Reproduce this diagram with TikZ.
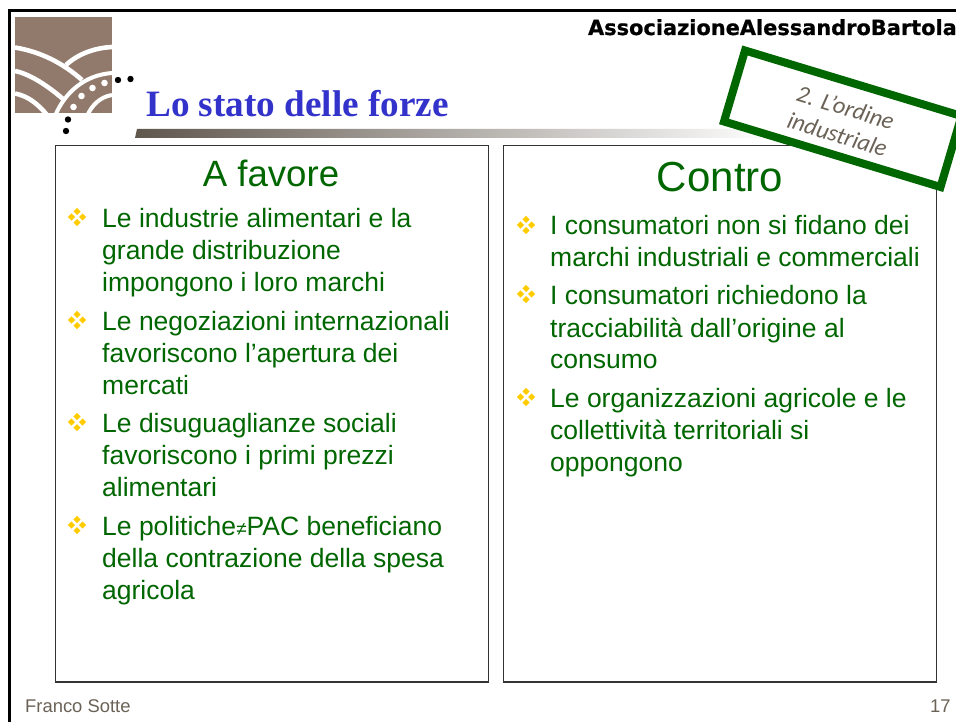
\documentclass[tikz,border=0pt]{standalone}
\usepackage{fontspec}
\setmainfont{Liberation Sans}
\newfontfamily\titlefont{Liberation Serif}
\newfontfamily\headerfont[FakeBold=0.7]{DejaVu Sans}
\newfontfamily\handfont{Carlito}
\definecolor{txtgreen}{HTML}{006600}
\definecolor{titleblue}{HTML}{3333CC}
\definecolor{logobrown}{HTML}{917A6B}
\definecolor{bulletgold}{HTML}{FFCC00}
\definecolor{footgray}{HTML}{6B6257}
\definecolor{barbrown}{HTML}{5F564C}
\usetikzlibrary{shapes.geometric}
\tikzset{
  x=1pt,y=-1pt,
  bodyline/.style={anchor=base west,inner sep=0pt,text=txtgreen,font=\fontsize{26.5}{30}\selectfont},
  headline/.style={anchor=base,inner sep=0pt,text=txtgreen},
  panelbox/.style={draw=black!80,line width=1.2pt},
  logocurve/.style={draw=white,line width=4.6pt},
  blackdot/.style={fill=black,circle,inner sep=0pt,minimum size=6.4pt},
  whitedot/.style={fill=white,circle,inner sep=0pt,minimum size=6.6pt},
  footer/.style={anchor=base west,inner sep=0pt,text=footgray,font=\fontsize{18.4}{20}\selectfont},
  pics/bulletmark/.style={code={
    \foreach \dx/\dy in {0/-5.6,0/5.6,-5.6/0,5.6/0}
      \fill[bulletgold] (\dx-3.6,\dy) -- (\dx,\dy-3.6) -- (\dx+3.6,\dy) -- (\dx,\dy+3.6) -- cycle;
  }}
}
\begin{document}
\begin{tikzpicture}
\useasboundingbox (0,0) rectangle (956,722);
\fill[white] (0,0) rectangle (956,722);
\clip (0,0) rectangle (956,722);
% outer frame
\draw[line width=3pt,black] (9.5,800) -- (9.5,10.5) -- (1000,10.5);
% logo
\begin{scope}
\fill[logobrown] (15,17) rectangle (112,113.5);
\clip (15,17) rectangle (112,113.5);
\draw[logocurve] (15,47.5) .. controls (42,52) and (64,64) .. (82,80);
\draw[logocurve] (66,65) .. controls (78,54) and (94,48) .. (112,47);
\draw[logocurve] (15,71) .. controls (30,74) and (48,86) .. (63,99);
\draw[logocurve] (15,93.5) .. controls (28,96) and (38,104) .. (47,115);
\draw[logocurve,line width=4pt] (55,116) .. controls (65,92) and (85,75) .. (112,73);
\draw[logocurve,line width=4pt] (87,116) .. controls (92,105) and (100,97) .. (112,95);
\node[whitedot] (wa) at (73.5,107) {};
\node[whitedot] (wb) at (81.5,96) {};
\node[whitedot] (wc) at (92.5,88) {};
\node[whitedot] (wd) at (104.5,83) {};
\end{scope}
\node[blackdot] (ba) at (118,80) {};
\node[blackdot] (bb) at (130.5,79) {};
\node[blackdot] (bc) at (68,119.5) {};
\node[blackdot] (bd) at (66,131) {};
% header
\node[anchor=base east,inner sep=0pt,font=\headerfont\bfseries\fontsize{20.9}{24}\selectfont] (hdr) at (957,35) {AssociazioneAlessandroBartola};
% title
\node[anchor=base west,inner sep=0pt,text=titleblue,font=\titlefont\bfseries\fontsize{37.2}{40}\selectfont] (title) at (146,117) {Lo stato delle forze};
% gradient bar
\shade[left color=barbrown,right color=white,shading angle=90] (135,138) -- (137,129) -- (770,129) -- (770,138) -- cycle;
% panels
\draw[panelbox] (55.5,145.5) rectangle (488.5,682);
\draw[panelbox] (503.5,145.5) rectangle (936.5,682);
% stamp
\draw[draw=txtgreen,fill=white,line width=8pt,line join=miter] (745,50.5) -- (961.5,116) -- (940.5,187) -- (724,121.5) -- cycle;
\node[rotate=-17,inner sep=0pt,text=footgray,align=center,font=\handfont\itshape\fontsize{24}{28}\selectfont] (stamp) at (841.5,121) {2. L’ordine\\industriale};
% headings
\node[headline,font=\fontsize{36.6}{40}\selectfont] (hleft) at (271,187) {A favore};
\node[headline,font=\fontsize{42}{48}\selectfont] (hright) at (720,192) {Contro};
% left column
\pic at (77,217) {bulletmark};
\node[bodyline] (l1) at (102,227.5) {Le industrie alimentari e la};
\node[bodyline] (l2) at (102,259) {grande distribuzione};
\node[bodyline] (l3) at (102,291) {impongono i loro marchi};
\pic at (77,320) {bulletmark};
\node[bodyline] (l4) at (102,330) {Le negoziazioni internazionali};
\node[bodyline] (l5) at (102,362) {favoriscono l’apertura dei};
\node[bodyline] (l6) at (102,394) {mercati};
\pic at (77,422) {bulletmark};
\node[bodyline] (l7) at (102,432) {Le disuguaglianze sociali};
\node[bodyline] (l8) at (102,464) {favoriscono i primi prezzi};
\node[bodyline] (l9) at (102,496) {alimentari};
\pic at (77,525) {bulletmark};
\node[bodyline] (l10) at (102,535) {Le politiche{\fontsize{19}{20}\selectfont ≠}PAC beneficiano};
\node[bodyline] (l11) at (102,567) {della contrazione della spesa};
\node[bodyline] (l12) at (102,599) {agricola};
% right column
\pic at (526,225) {bulletmark};
\node[bodyline] (r1) at (550,235) {I consumatori non si fidano dei};
\node[bodyline] (r2) at (550,266) {marchi industriali e commerciali};
\pic at (526,294) {bulletmark};
\node[bodyline] (r3) at (550,304) {I consumatori richiedono la};
\node[bodyline] (r4) at (550,337) {tracciabilità dall’origine al};
\node[bodyline] (r5) at (550,368) {consumo};
\pic at (526,397) {bulletmark};
\node[bodyline] (r6) at (550,407) {Le organizzazioni agricole e le};
\node[bodyline] (r7) at (550,439) {collettività territoriali si};
\node[bodyline] (r8) at (550,471) {oppongono};
% footer
\node[footer] (f1) at (25,712) {Franco Sotte};
\node[footer] (f2) at (930,712) {17};
\end{tikzpicture}
\end{document}
